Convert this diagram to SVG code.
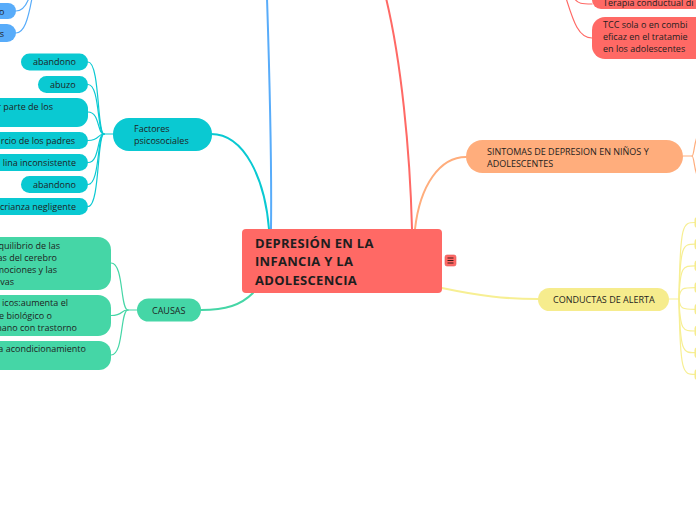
<svg xmlns="http://www.w3.org/2000/svg" width="696" height="520" viewBox="0 0 696 520">
<style>
text{font-family:"Open Sans","Noto Sans","Liberation Sans",sans-serif;font-size:9px;fill:#1e1e1e}
.c{fill:none;stroke-linecap:round}
.red{stroke:#ff6965}
.blue{stroke:#58acfa}
.teal{stroke:#0ac9d2}
.green{stroke:#45d6a6}
.orange{stroke:#ffad7c}
.yellow{stroke:#f7ef93}
.m{stroke-width:2}
.t{stroke-width:1.2}
.nred{fill:#ff6965}
.nblue{fill:#58acfa}
.nteal{fill:#0ac9d2}
.ngreen{fill:#45d6a6}
.norange{fill:#ffad7c}
.nyellow{fill:#f6ec8d}
.e{text-anchor:end}
.big{font-size:13px;font-weight:bold;letter-spacing:0.3px}
</style>
<rect width="696" height="520" fill="#ffffff"/>
<g id="connectors">
  <path class="c blue m" d="M271 229 C272 150 269 60 267 -2"/>
  <path class="c blue t" d="M16 11 C22 11 26 6 29 -2"/>
  <path class="c blue t" d="M16 33 C24 33 28 20 32 -2"/>
  <path class="c red m" d="M412 229 C410 150 401 60 386 -2"/>
  <path class="c red t" d="M574 -2 C578 4 582 4 592 4"/>
  <path class="c red t" d="M566 -2 C573 20 578 38 592 38"/>
  <path class="c teal m" d="M211 134 C245 134 265 180 269 229"/>
  <path class="c teal t" d="M113 134 L104 134 C97 134 100 62 88 62"/>
  <path class="c teal t" d="M104 134 C97 134 100 84.5 88 84.5"/>
  <path class="c teal t" d="M104 134 C97 134 100 112 88 112"/>
  <path class="c teal t" d="M104 134 C97 134 100 140.5 88 140.5"/>
  <path class="c teal t" d="M104 134 C97 134 100 162.5 88 162.5"/>
  <path class="c teal t" d="M104 134 C97 134 100 184.5 88 184.5"/>
  <path class="c teal t" d="M104 134 C97 134 100 206.5 88 206.5"/>
  <path class="c green m" d="M201 310 C226 310 241 305 253 293"/>
  <path class="c green t" d="M137 310 L128 310 C120 310 124 263 111 263"/>
  <path class="c green t" d="M128 310 C120 310 124 315.5 111 315.5"/>
  <path class="c green t" d="M128 310 C120 310 124 355 111 355"/>
  <path class="c orange m" d="M415 229 C420 185 440 157 466 157"/>
  <path class="c orange t" d="M683 156 L692 156 C694 156 694 144 697 137"/>
  <path class="c orange t" d="M692 156 C694 156 694 168 697 175"/>
  <path class="c yellow m" d="M442 288 C480 296 505 299 538 299"/>
  <path class="c yellow t" d="M669 299 L679 299"/>
  <path class="c yellow t" d="M679 299 C680 222.5 683 222.5 695 222.5"/>
  <path class="c yellow t" d="M679 299 C680 244.2 683 244.2 695 244.2"/>
  <path class="c yellow t" d="M679 299 C680 265.8 683 265.8 695 265.8"/>
  <path class="c yellow t" d="M679 299 C680 287.6 683 287.6 695 287.6"/>
  <path class="c yellow t" d="M679 299 C680 309.3 683 309.3 695 309.3"/>
  <path class="c yellow t" d="M679 299 C680 331 683 331 695 331"/>
  <path class="c yellow t" d="M679 299 C680 352.7 683 352.7 695 352.7"/>
  <path class="c yellow t" d="M679 299 C680 374.4 683 374.4 695 374.4"/>
</g>
<g id="central">
  <rect class="nred" x="242" y="229" width="200" height="64" rx="4"/>
  <text class="big" x="255" y="248">DEPRESIÓN EN LA</text>
  <text class="big" x="255" y="266">INFANCIA Y LA</text>
  <text class="big" x="255" y="285">ADOLESCENCIA</text>
  <rect x="445" y="255" width="11" height="11" rx="2" fill="#ff6965" stroke="#e05555" stroke-width="0.6"/>
  <path d="M447.5 258 H453.5 M447.5 260.5 H453.5 M447.5 263 H453.5" stroke="#3a1a1a" stroke-width="1"/>
</g>
<g id="blue-node-1">
  <rect class="nblue" x="-20" y="3" width="36" height="16" rx="8"/>
  <text class="e" x="4.5" y="15">o</text>
</g>
<g id="blue-node-2">
  <rect class="nblue" x="-20" y="24" width="36" height="18" rx="9"/>
  <text class="e" x="4" y="36.5">s</text>
</g>
<g id="red-node-1">
  <rect class="nred" x="592" y="-12" width="120" height="21" rx="9"/>
  <text x="603" y="6">Terapia conductual di</text>
</g>
<g id="red-node-2">
  <rect class="nred" x="592" y="17" width="120" height="42" rx="13"/>
  <text x="603" y="28">TCC sola o en combi</text>
  <text x="603" y="40">eficaz en el tratamie</text>
  <text x="603" y="52">en los adolescentes</text>
</g>
<g id="factores">
  <rect class="nteal" x="113" y="118" width="99" height="33" rx="16"/>
  <text x="134" y="132">Factores</text>
  <text x="134" y="144">psicosociales</text>
</g>
<g id="f-abandono-1">
  <rect class="nteal" x="21" y="53.5" width="67" height="17" rx="8.5"/>
  <text x="33" y="65">abandono</text>
</g>
<g id="f-abuzo">
  <rect class="nteal" x="38" y="76" width="50" height="17" rx="8.5"/>
  <text x="50" y="87.5">abuzo</text>
</g>
<g id="f-rechazo">
  <rect class="nteal" x="-20" y="98" width="108" height="29" rx="11"/>
  <text class="e" x="53" y="110">r parte de los</text>
</g>
<g id="f-divorcio">
  <rect class="nteal" x="-20" y="132" width="108" height="17" rx="8.5"/>
  <text class="e" x="75" y="144">rcio de los padres</text>
</g>
<g id="f-disciplina">
  <rect class="nteal" x="-20" y="154" width="108" height="17" rx="8.5"/>
  <text class="e" x="76" y="166">lina inconsistente</text>
</g>
<g id="f-abandono-2">
  <rect class="nteal" x="21" y="176" width="67" height="17" rx="8.5"/>
  <text x="33" y="188">abandono</text>
</g>
<g id="f-crianza">
  <rect class="nteal" x="-20" y="198" width="108" height="17" rx="8.5"/>
  <text class="e" x="76" y="210">crianza negligente</text>
</g>
<g id="causas">
  <rect class="ngreen" x="137" y="298.5" width="64" height="23" rx="11.5"/>
  <text x="152" y="313.5">CAUSAS</text>
</g>
<g id="c-quimica">
  <rect class="ngreen" x="-20" y="237" width="131" height="53" rx="13"/>
  <text class="e" x="60" y="249">quilibrio de las</text>
  <text class="e" x="57" y="261">as del cerebro</text>
  <text class="e" x="57" y="273">mociones y las</text>
  <text class="e" x="14" y="285">vas</text>
</g>
<g id="c-geneticos">
  <rect class="ngreen" x="-20" y="295" width="131" height="41" rx="13"/>
  <text class="e" x="68" y="306">icos:aumenta el</text>
  <text class="e" x="52" y="319">e biológico o</text>
  <text class="e" x="77" y="331">mano con trastorno</text>
</g>
<g id="c-acondicionamiento">
  <rect class="ngreen" x="-20" y="341" width="131" height="29" rx="12"/>
  <text class="e" x="86" y="352">a acondicionamiento</text>
</g>
<g id="sintomas">
  <rect class="norange" x="466" y="140" width="217" height="33" rx="16.5"/>
  <text x="487" y="155">SINTOMAS DE DEPRESION EN  NIÑOS Y</text>
  <text x="487" y="167">ADOLESCENTES</text>
</g>
<g id="conductas">
  <rect class="nyellow" x="538" y="288" width="131" height="23" rx="11.5"/>
  <text x="553" y="303">CONDUCTAS DE ALERTA</text>
</g>
<g id="conductas-children">
  <rect class="nyellow" x="694.5" y="217" width="10" height="11" rx="3"/>
  <rect class="nyellow" x="694.5" y="238.7" width="10" height="11" rx="3"/>
  <rect class="nyellow" x="694.5" y="260.3" width="10" height="11" rx="3"/>
  <rect class="nyellow" x="694.5" y="282.1" width="10" height="11" rx="3"/>
  <rect class="nyellow" x="694.5" y="303.8" width="10" height="11" rx="3"/>
  <rect class="nyellow" x="694.5" y="325.5" width="10" height="11" rx="3"/>
  <rect class="nyellow" x="694.5" y="347.2" width="10" height="11" rx="3"/>
  <rect class="nyellow" x="694.5" y="368.9" width="10" height="11" rx="3"/>
</g>
</svg>
